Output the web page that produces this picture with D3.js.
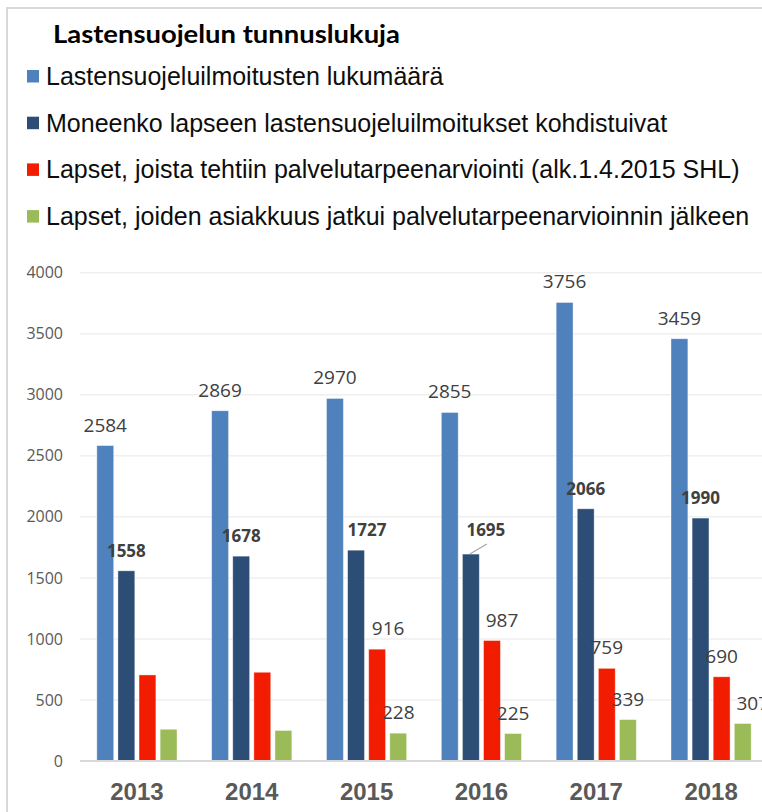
<!DOCTYPE html>
<html>
<head>
<meta charset="utf-8">
<script src="https://cdn.jsdelivr.net/npm/d3@7"></script>
<style>
  body { margin: 0; background: #fff; }
  svg { display: block; }
</style>
</head>
<body>
<div id="chart"></div>
<script>
// data
var years = ["2013", "2014", "2015", "2016", "2017", "2018"];
var seriesNames = [
  "Lastensuojeluilmoitusten lukumäärä",
  "Moneenko lapseen lastensuojeluilmoitukset kohdistuivat",
  "Lapset, joista tehtiin palvelutarpeenarviointi (alk.1.4.2015 SHL)",
  "Lapset, joiden asiakkuus jatkui palvelutarpeenarvioinnin jälkeen"
];
var ilmoitukset = [2584, 2869, 2970, 2855, 3756, 3459];
var lapset = [1558, 1678, 1727, 1695, 2066, 1990];
var arviointi = [705, 727, 916, 987, 759, 690];
var jatkui = [260, 250, 228, 225, 339, 307];
var yTicks = [0, 500, 1000, 1500, 2000, 2500, 3000, 3500, 4000];

var colors = ["#4F81BD", "#2C4D75", "#F21D00", "#9BBB59"];
var values = [ilmoitukset, lapset, arviointi, jatkui];
// labels of the two last series start from 2015
var labelFrom = ["2013", "2013", "2015", "2015"];
var boldLabel = [false, true, false, false];
// a few labels are pushed aside in the original
var nudge = { "1|2015": [11, 0], "1|2016": [15, -4], "2|2015": [11, 0], "2|2016": [10, 0], "3|2018": [10, 0] };

var width = 762, height = 812;

var svg = d3.select("#chart").append("svg")
  .attr("width", width)
  .attr("height", height);

// frame
svg.append("rect")
  .attr("x", 7).attr("y", 8)
  .attr("width", 900).attr("height", 900)
  .attr("fill", "none")
  .attr("stroke", "#D9D9D9")
  .attr("stroke-width", 2);

svg.append("text")
  .attr("x", 53).attr("y", 42.5)
  .attr("textLength", 347)
  .attr("lengthAdjust", "spacingAndGlyphs")
  .style("font-family", "Lato, 'Open Sans', sans-serif")
  .style("font-weight", "bold")
  .style("font-size", "24px")
  .attr("fill", "#000")
  .text("Lastensuojelun tunnuslukuja");

// legend
var legend = svg.append("g").selectAll("g")
  .data(seriesNames)
  .enter().append("g")
  .attr("transform", (d, i) => `translate(0,${85 + i * 46.7})`);

legend.append("rect")
  .attr("x", 27).attr("y", -15)
  .attr("width", 12).attr("height", 12.5)
  .attr("fill", (d, i) => colors[i]);

legend.append("text")
  .attr("x", 46).attr("y", 0)
  .style("font-family", "'Liberation Sans', Arial, sans-serif")
  .style("font-size", "25px")
  .attr("fill", "#0D0D0D")
  .text(d => d);

var x0 = d3.scaleBand()
  .domain(years)
  .range([79.5, 768.5]);

var x1 = d3.scaleBand()
  .domain(d3.range(seriesNames.length))
  .range([-42.2, 42.2])
  .paddingInner(0.2)
  .paddingOuter(0.1);

var y = d3.scaleLinear()
  .domain([0, 4000])
  .range([761, 272.7]);

// gridlines
svg.append("g").selectAll("line")
  .data(yTicks.filter(d => d > 0))
  .enter().append("line")
  .attr("x1", 80).attr("x2", width)
  .attr("y1", d => y(d)).attr("y2", d => y(d))
  .attr("stroke", "#EFEFEF")
  .attr("stroke-width", 1.5);

var yAxis = d3.axisLeft(y)
  .tickValues(yTicks)
  .tickFormat(d3.format("d"))
  .tickSize(0)
  .tickPadding(0);

svg.append("g")
  .attr("class", "y-axis")
  .attr("transform", "translate(63,0)")
  .call(yAxis)
  .call(g => g.select(".domain").remove())
  .call(g => g.selectAll("text")
    .attr("fill", "#595959")
    .style("font-family", "'Open Sans', sans-serif")
    .style("font-size", "16px"));

// bars
var groups = svg.append("g").selectAll("g")
  .data(years)
  .enter().append("g")
  .attr("transform", d => `translate(${x0(d) + x0.bandwidth() / 2},0)`);

groups.selectAll("rect")
  .data((yr, j) => values.map((v, i) => ({ s: i, year: yr, value: v[j] })))
  .enter().append("rect")
  .attr("x", d => x1(d.s))
  .attr("width", x1.bandwidth())
  .attr("y", d => y(d.value))
  .attr("height", d => y(0) - y(d.value))
  .attr("fill", d => colors[d.s])
  .attr("stroke", "#fff")
  .attr("stroke-opacity", 0.5)
  .attr("stroke-width", 0.8);

// baseline
svg.append("line")
  .attr("x1", 80).attr("x2", width)
  .attr("y1", y(0)).attr("y2", y(0))
  .attr("stroke", "#D9D9D9")
  .attr("stroke-width", 2);

// data labels
var labelData = [];
years.forEach(function(yr, j) {
  values.forEach(function(v, i) {
    if (+yr >= +labelFrom[i]) labelData.push({ s: i, year: yr, value: v[j] });
  });
});

var labels = svg.append("g").selectAll("g")
  .data(labelData)
  .enter().append("g");

labels.each(function(d) {
  var g = d3.select(this);
  var bx = x0(d.year) + x0.bandwidth() / 2 + x1(d.s) + x1.bandwidth() / 2;
  var by = y(d.value);
  var n = nudge[d.s + "|" + d.year] || [0, 0];
  var lx = bx + n[0], ly = by - 14 + n[1];
  if (n[0] > 12) {
    g.append("line")
      .attr("x1", bx - 1).attr("y1", by)
      .attr("x2", lx + 1).attr("y2", ly + 8)
      .attr("stroke", "#A6A6A6")
      .attr("stroke-width", 1.2);
  }
  g.append("text")
    .attr("x", lx).attr("y", ly)
    .attr("text-anchor", "middle")
    .attr("fill", "#404040")
    .style("font-family", "'Open Sans', sans-serif")
    .style("font-weight", boldLabel[d.s] ? "bold" : "normal")
    .style("font-size", boldLabel[d.s] ? "17px" : "19px")
    .text(d.value);
});

// year labels
svg.append("g").selectAll("text")
  .data(years)
  .enter().append("text")
  .attr("x", d => x0(d) + x0.bandwidth() / 2)
  .attr("y", 800)
  .attr("text-anchor", "middle")
  .attr("fill", "#595959")
  .style("font-family", "'Liberation Sans', Arial, sans-serif")
  .style("font-weight", "bold")
  .style("font-size", "24px")
  .text(d => d);
</script>
</body>
</html>
